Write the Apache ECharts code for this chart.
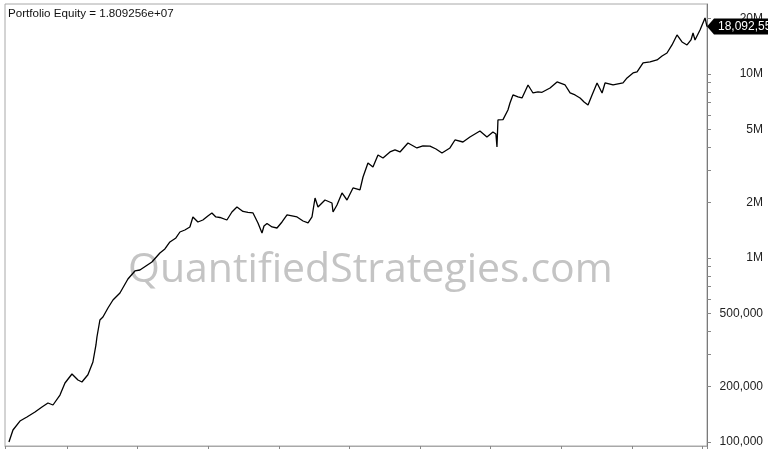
<!DOCTYPE html>
<html><head><meta charset="utf-8">
<script src="https://cdn.jsdelivr.net/npm/echarts@6/dist/echarts.min.js"></script>
<style>html,body{margin:0;padding:0;background:#fff}#c{width:768px;height:449px}</style>
</head><body><div id="c"></div>
<script>
// decimal years of each reading
const years = [2013.178,2013.235,2013.334,2013.433,2013.547,2013.646,2013.731,2013.802,2013.901,2013.972,
2014.071,2014.156,2014.212,2014.297,2014.368,2014.411,2014.425,2014.467,2014.510,2014.581,
2014.652,2014.751,2014.864,2014.963,2015.034,2015.119,2015.204,2015.317,2015.388,2015.459,
2015.544,2015.601,2015.671,2015.742,2015.785,2015.856,2015.926,2015.997,2016.054,2016.110,
2016.167,2016.266,2016.337,2016.408,2016.493,2016.564,2016.635,2016.705,2016.762,2016.790,
2016.833,2016.904,2016.974,2017.045,2017.116,2017.187,2017.258,2017.343,2017.414,2017.470,
2017.513,2017.555,2017.654,2017.753,2017.768,2017.824,2017.895,2017.966,2018.051,2018.150,
2018.193,2018.263,2018.334,2018.405,2018.476,2018.575,2018.646,2018.717,2018.830,2018.957,
2019.042,2019.142,2019.227,2019.312,2019.425,2019.496,2019.609,2019.708,2019.850,2019.949,
2020.034,2020.076,2020.091,2020.105,2020.176,2020.246,2020.275,2020.317,2020.388,2020.445,
2020.530,2020.600,2020.671,2020.728,2020.841,2020.940,2021.054,2021.125,2021.195,2021.266,
2021.323,2021.379,2021.436,2021.507,2021.578,2021.620,2021.734,2021.804,2021.875,2021.932,
2022.017,2022.074,2022.159,2022.258,2022.357,2022.428,2022.498,2022.569,2022.640,2022.711,
2022.782,2022.838,2022.867,2022.895,2022.966,2023.037,2023.065];
// portfolio equity readings
const equity = [100000,116200,130000,136700,145500,154900,162900,158900,180000,209200,
234200,217300,211900,232000,272100,336700,372100,460300,477900,535000,
591000,645200,769000,850000,860500,904800,951200,1064500,1119200,1221800,
1284400,1384500,1419600,1473900,1670600,1569100,1608800,1692000,1756600,1670600,
1660000,1608800,1778300,1893100,1790000,1770000,1756600,1549900,1367300,1492500,
1540000,1473900,1455500,1569100,1713300,1692000,1670600,1588800,1549900,1670600,
2118400,1893100,2065900,1990000,1778300,1940900,2255500,2065900,2401400,2342200,
2755500,3283700,3122800,3629100,3495500,3768600,3864000,3768600,4217000,3961700,
4062100,4050000,3912400,3721800,3961700,4378000,4268800,4545500,4899800,4545500,
4839000,4719100,4011800,5623400,5650000,6372500,6956600,7690700,7498900,7405700,
8713400,7883900,7983800,7950000,8390600,9049400,8713400,7883900,7690700,7405700,
7044100,6785100,7690700,8936900,7883900,8936900,8713400,8825000,8936900,9512800,
10126000,10254000,11476000,11620000,11915000,12525000,13004000,14374000,16293000,14925000,
14374000,15303000,16704000,15303000,17343000,20152000,18092557];
const yLabelValues = [100000,200000,500000,1000000,2000000,5000000,10000000,20000000];
const yTickValues = [100000,200000,300000,400000,500000,600000,700000,800000,900000,
1000000,2000000,3000000,4000000,5000000,6000000,7000000,8000000,9000000,10000000,20000000];
const axisStartYear = 2013.122, axisEndYear = 2023.065;
const yMin = 95130, yMax = 24000000;
const titleText = 'Portfolio Equity';
const watermark = 'QuantifiedStrategies.com';

function yearToTs(y){const yi=Math.floor(y);const s=Date.UTC(yi,0,1),e=Date.UTC(yi+1,0,1);return s+(y-yi)*(e-s);}
const data = years.map((y,i)=>[yearToTs(y), equity[i]]);
const last = data[data.length-1];
const expStr = last[1].toExponential(6).replace(/e([+-])(\d)$/, 'e$10$2');
function fmtY(v){
  if (v >= 1000000) return (v/1000000) + 'M';
  return v.toLocaleString('en-US');
}
const chart = echarts.init(document.getElementById('c'), null, {renderer:'canvas'});
const ONE_YEAR = 365*86400000;
chart.setOption({
  animation:false,
  backgroundColor:'#fff',
  title:{text: titleText + ' = ' + expStr, left:3, top:3,
    textStyle:{fontFamily:'Liberation Sans, Arial, sans-serif', fontSize:11.6, fontWeight:'normal', color:'#111'}},
  grid:{left:5, right:61, top:4, bottom:3, show:true, borderColor:'#a8a8a8', borderWidth:1},
  graphic:[{type:'text', left:128, top:250, z:-1, silent:true,
    style:{text: watermark, font:'41px "Open Sans", sans-serif', fill:'#c4c4c4'}}],
  xAxis:{type:'time', min:yearToTs(axisStartYear), max:yearToTs(axisEndYear),
    minInterval:ONE_YEAR, maxInterval:ONE_YEAR,
    axisLine:{show:true, lineStyle:{color:'#a8a8a8'}},
    axisTick:{show:true, inside:false, length:3, lineStyle:{color:'#888'}},
    axisLabel:{show:false}, splitLine:{show:false}},
  yAxis:{type:'log', logBase:10, min:yMin, max:yMax, position:'right',
    axisLine:{show:true, lineStyle:{color:'#7a7a7a'}},
    axisTick:{show:true, inside:false, length:4, customValues:yTickValues, lineStyle:{color:'#888'}},
    axisLabel:{show:true, customValues:yLabelValues, formatter:fmtY, align:'right', margin:56,
      fontFamily:'Liberation Sans, Arial, sans-serif', fontSize:12, color:'#222'},
    splitLine:{show:false}, minorTick:{show:false}},
  series:[{type:'line', data:data, showSymbol:false, symbol:'none', clip:false,
    lineStyle:{color:'#000', width:1.3},
    markPoint:{silent:true, data:[{coord:last, value:last[1]}],
      symbol:'path://M0,8L7,0L64,0L64,16L7,16Z', symbolSize:[64,16], symbolOffset:[32,0], symbolKeepAspect:false,
      itemStyle:{color:'#000'},
      label:{show:true, position:'inside', align:'left', offset:[-21,0], color:'#fff', fontSize:12,
        fontFamily:'Liberation Sans, Arial, sans-serif',
        formatter:p=>Math.round(p.value).toLocaleString('en-US')}}
  }]
});
</script></body></html>
